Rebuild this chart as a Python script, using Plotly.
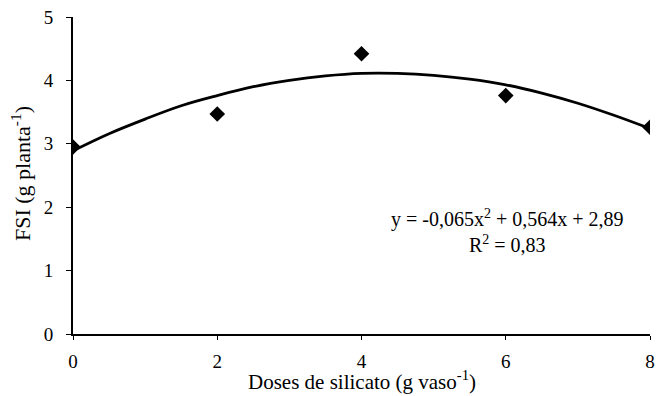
import plotly.graph_objects as go

# Observed data
doses = [0, 2, 4, 6, 8]
fsi = [2.95, 3.47, 4.42, 3.76, 3.26]

# Fitted curve
curve_x = [0, 0.5, 1, 1.5, 2, 2.5, 3, 3.5, 4, 4.5, 5, 5.5, 6, 6.5, 7, 7.5, 8]
curve_y = [2.89, 3.16, 3.39, 3.60, 3.76, 3.90, 4.00, 4.07, 4.11, 4.11, 4.08, 4.02, 3.93, 3.80, 3.64, 3.45, 3.24]

x_ticks = [0, 2, 4, 6, 8]
y_ticks = [0, 1, 2, 3, 4, 5]

x_title = "Doses de silicato (g vaso<sup>-1</sup>)"
y_title = "FSI (g planta<sup>-1</sup>)"
equation = "y = -0,065x<sup>2</sup> + 0,564x + 2,89<br>R<sup>2</sup> = 0,83"

font = "Liberation Serif, Times New Roman, serif"

fig = go.Figure()
fig.add_trace(go.Scatter(x=curve_x, y=curve_y, mode="lines",
                         line=dict(color="black", width=2.8, shape="spline"),
                         hoverinfo="skip", showlegend=False))
fig.add_trace(go.Scatter(x=doses, y=fsi, mode="markers",
                         marker=dict(symbol="diamond", size=12, color="black"),
                         showlegend=False))

fig.add_annotation(x=6.03, y=1.63, xref="x", yref="y", showarrow=False,
                   text=equation,
                   font=dict(family=font, size=20, color="black"), align="center")

fig.add_annotation(x=0.5, y=-0.147, xref="paper", yref="paper", showarrow=False,
                   text=x_title, xanchor="center", yanchor="middle",
                   font=dict(family=font, size=21, color="black"))
fig.add_annotation(x=-0.091, y=0.506, xref="paper", yref="paper", showarrow=False,
                   text=y_title, textangle=-90, xanchor="center", yanchor="middle",
                   font=dict(family=font, size=22, color="black"))

fig.update_layout(
    width=660, height=396,
    margin=dict(l=73, r=5, t=17, b=62),
    paper_bgcolor="white", plot_bgcolor="white",
    font=dict(family=font, size=19, color="black"),
    xaxis=dict(range=[0, 8], tickvals=x_ticks, showgrid=False, zeroline=False,
               showline=True, linecolor="black", linewidth=2,
               ticks="outside", ticklen=4, tickcolor="black",
               ticklabelstandoff=5),
    yaxis=dict(range=[0, 5], tickvals=y_ticks, showgrid=False, zeroline=False,
               showline=True, linecolor="black", linewidth=2,
               ticks="outside", ticklen=5, tickcolor="black",
               ticklabelstandoff=9),
)

fig.write_html("out.html")
